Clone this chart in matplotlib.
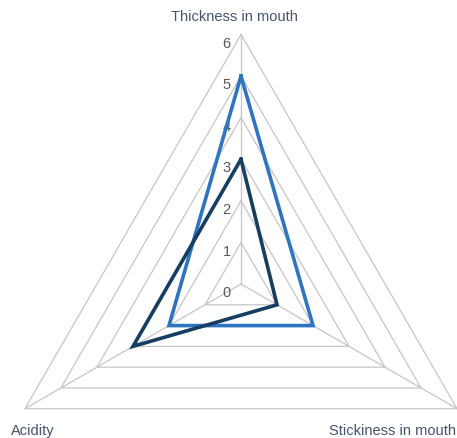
import numpy as np
import matplotlib
matplotlib.use('Agg')
import matplotlib.pyplot as plt

# categorias (en el sentido de las agujas del reloj, empezando arriba)
categories = ['Thickness in mouth', 'Stickiness in mouth', 'Acidity']
series_light = [5, 2, 2]
series_dark = [3, 1, 3]
ticks = [0, 1, 2, 3, 4, 5, 6]

plt.rcParams['font.family'] = ['Liberation Sans', 'DejaVu Sans']

W, H = 457, 439
cx, cy = 241, 285          # centro en pixeles
scale = 249.5 / 6          # pixeles por unidad

fig = plt.figure(figsize=(W / 100, H / 100), dpi=100)
ax = fig.add_axes([0, 0, 1, 1])
ax.set_xlim(-cx / scale, (W - cx) / scale)
ax.set_ylim(-(H - cy) / scale, cy / scale)
ax.axis('off')

angles = np.pi / 2 - np.arange(len(categories)) * 2 * np.pi / len(categories)


def xy(vals):
    vals = np.asarray(vals, dtype=float)
    x = vals * np.cos(angles)
    y = vals * np.sin(angles)
    return np.append(x, x[0]), np.append(y, y[0])


grid_color = '#c6c6c6'
for t in ticks[1:]:
    gx, gy = xy([t] * len(categories))
    ax.plot(gx, gy, color=grid_color, lw=0.9, zorder=1)
for a in angles:
    ax.plot([0, ticks[-1] * np.cos(a)], [0, ticks[-1] * np.sin(a)],
            color=grid_color, lw=0.9, zorder=1)

# etiquetas de la escala
for t in ticks:
    ax.text(-0.25, t - 0.03, str(t), ha='right', va='top', fontsize=10.5,
            color='#595959', zorder=2)

lx, ly = xy(series_light)
ax.plot(lx, ly, color='#2f74c0', lw=2.6, zorder=3, solid_joinstyle='miter')
dx, dy = xy(series_dark)
ax.plot(dx, dy, color='#163d62', lw=2.6, zorder=4, solid_joinstyle='miter')

# nombres de las categorias
text_color = '#44546a'
ax.text(-0.15, 6.45, categories[0], ha='center', va='center', fontsize=10.5, color=text_color)
ax.text(3.65, -3.5, categories[1], ha='center', va='center', fontsize=10.5, color=text_color)
ax.text(-5.0, -3.5, categories[2], ha='center', va='center', fontsize=10.5, color=text_color)

plt.savefig('out.png', dpi=100)
